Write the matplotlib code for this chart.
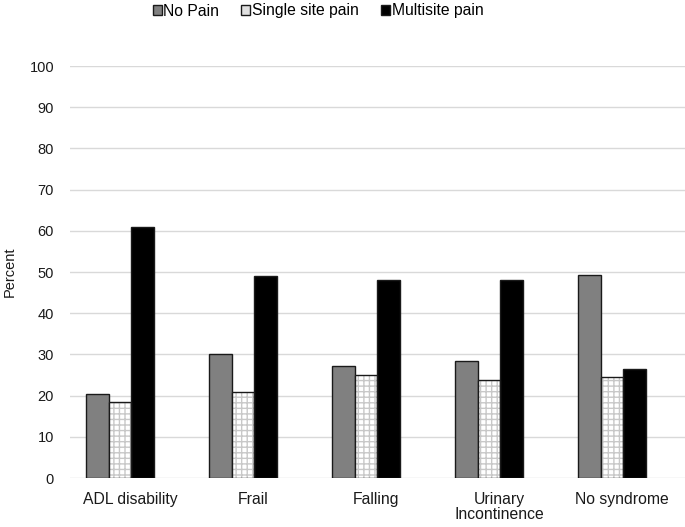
import numpy as np
import matplotlib
matplotlib.use('Agg')
import matplotlib.pyplot as plt
import matplotlib.transforms as mtransforms
from matplotlib.patches import Patch

plt.rcParams['font.family'] = ['Liberation Sans', 'DejaVu Sans']

categories = ['ADL disability', 'Frail', 'Falling', 'Urinary\nIncontinence', 'No syndrome']
no_pain = [20.4, 30.1, 27.2, 28.4, 49.2]
single_site = [18.4, 20.9, 25.0, 23.8, 24.5]
multisite = [60.9, 49.0, 48.0, 48.0, 26.5]
yticks = list(range(0, 101, 10))

fig = plt.figure(figsize=(6.85, 5.27), dpi=100)
ax = fig.add_axes([70 / 685, 49 / 527, 615 / 685, 412 / 527])

x = np.arange(len(categories))
w = 0.184

ax.bar(x - w, no_pain, w, color='#808080', edgecolor='#1a1a1a', linewidth=1, zorder=3)
# hatched bars: grey grid first, then the dark outline on top
ax.bar(x, single_site, w, color='white', edgecolor='#c8c8c8', hatch='+++', linewidth=0, zorder=3)
ax.bar(x, single_site, w, color='none', edgecolor='#1a1a1a', linewidth=1, zorder=4)
ax.bar(x + w, multisite, w, color='black', edgecolor='#1a1a1a', linewidth=1, zorder=3)

ax.set_xlim(-50 / 123, 565 / 123)
ax.set_ylim(0, 100)
ax.set_yticks(yticks)
ax.set_xticks(x)
ax.set_xticklabels(categories, fontsize=11.3, color='#1a1a1a', linespacing=1.05)
ax.tick_params(axis='y', labelsize=10.5, colors='#1a1a1a', length=0, pad=11.5)
ax.tick_params(axis='x', length=0, pad=10)
# category labels sit a little right of the bar groups in the original
shift = mtransforms.ScaledTranslation(0.10, 0, fig.dpi_scale_trans)
for lbl in ax.get_xticklabels():
    lbl.set_transform(lbl.get_transform() + shift)
ax.grid(axis='y', color='#d9d9d9', linewidth=1, zorder=0)
for s in ax.spines.values():
    s.set_visible(False)
ax.set_ylabel('Percent', fontsize=10.5, color='#1a1a1a', labelpad=9)

handles = [
    Patch(facecolor='#808080', edgecolor='#1a1a1a', label='No Pain'),
    Patch(facecolor='#e0e0e0', edgecolor='#1a1a1a', label='Single site pain'),
    Patch(facecolor='black', edgecolor='#1a1a1a', label='Multisite pain'),
]
fig.legend(handles=handles, loc='center', bbox_to_anchor=(318 / 685, 1 - 11 / 527), ncol=3,
           frameon=False, fontsize=11.3, handlelength=0.58, handleheight=0.58,
           handletextpad=0.1, columnspacing=1.4, borderpad=0)

plt.savefig('out.png', dpi=100)
